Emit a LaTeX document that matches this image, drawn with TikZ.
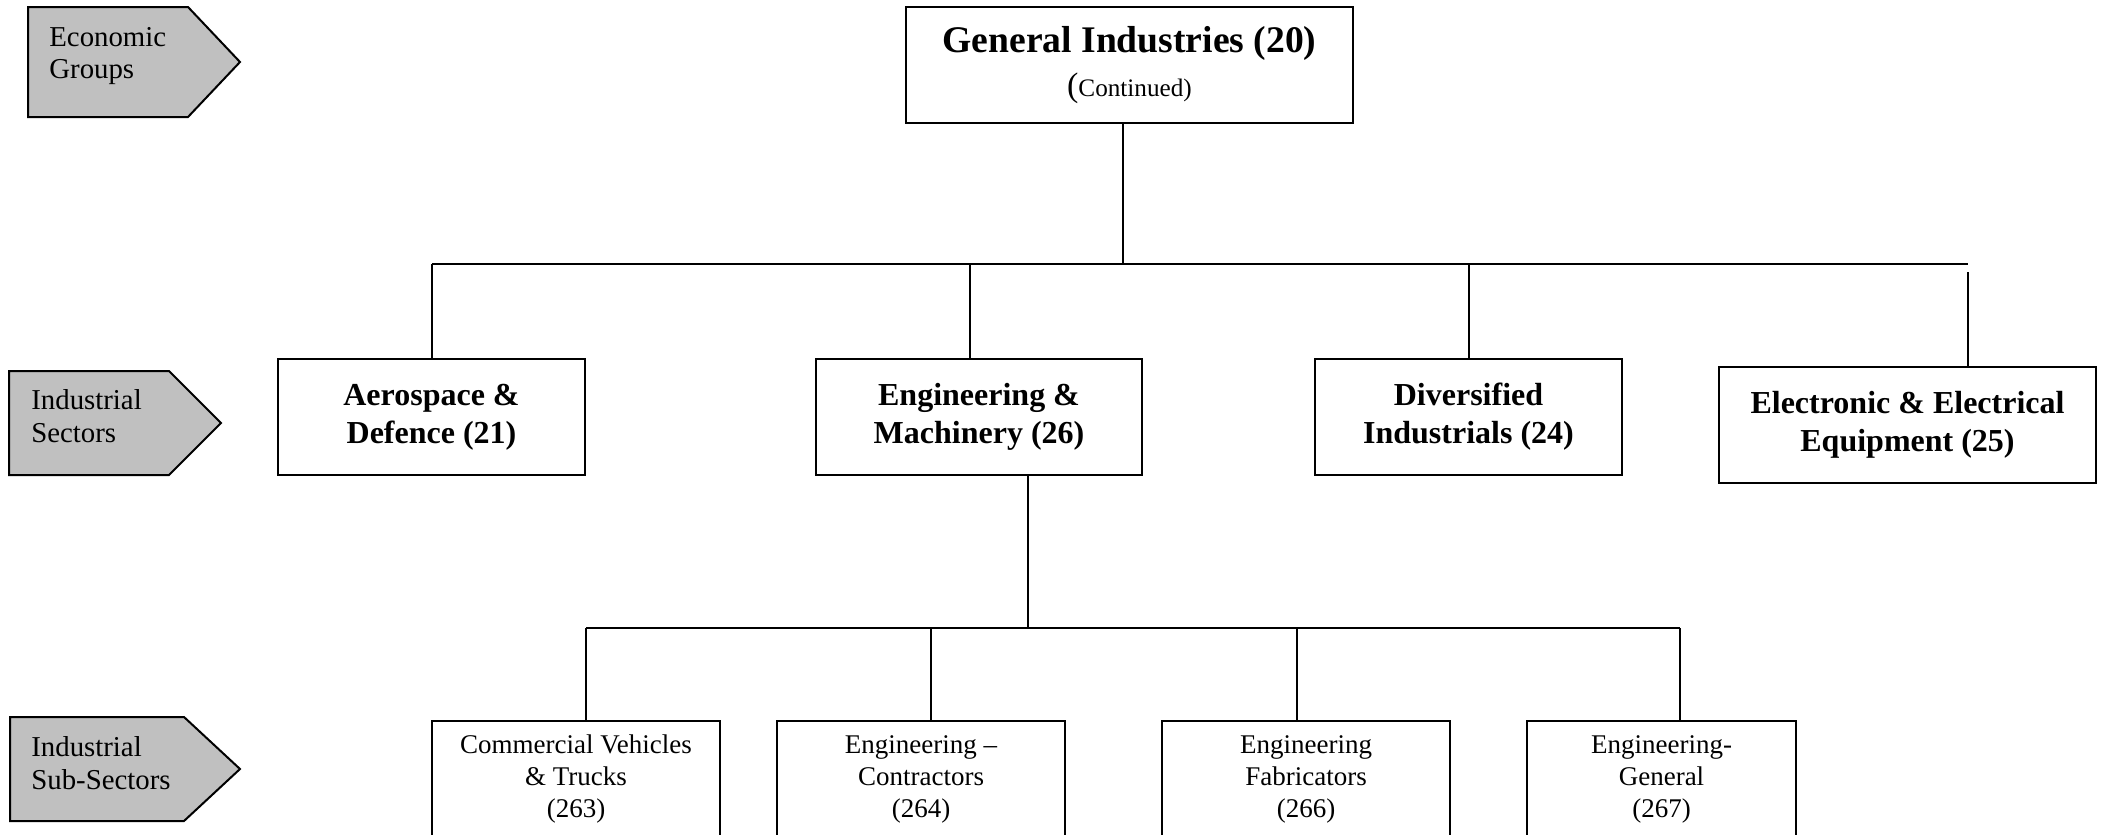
\documentclass[tikz,border=0pt]{standalone}
\usepackage{fontspec}
\setmainfont{Liberation Serif}
\newcommand{\mvtext}[2]{\raisebox{#1}{\begin{tabular}{@{}c@{}}#2\end{tabular}}}
\begin{document}
\begin{tikzpicture}[x=0.5pt,y=-0.5pt,
  box/.style={draw=black,line width=1pt,fill=white,align=center,inner sep=0pt},
  gbox/.style={box,minimum width=223.5pt,minimum height=58pt},
  sbox/.style={box,minimum height=58pt,font=\fontsize{16}{19}\selectfont\bfseries},
  subbox/.style={box,minimum height=58pt,font=\fontsize{13.5}{16}\selectfont},
  tag/.style={draw=black,line width=1pt,fill=tagfill},
  tagtext/.style={anchor=west,align=left,inner sep=0pt,font=\fontsize{14.4}{16.2}\selectfont},
  link/.style={draw=black,line width=1pt}]
\definecolor{tagfill}{HTML}{C0C0C0}
\useasboundingbox (0,0) rectangle (2109,835);
% row tags
\draw[tag] (28,7) -- (188,7) -- (240,62) -- (188,117) -- (28,117) -- cycle;
\node[tagtext] (tEG) at (49,56) {Economic\\Groups};
\draw[tag] (9,371) -- (169,371) -- (221,423) -- (169,475) -- (9,475) -- cycle;
\node[tagtext] (tIS) at (31,416) {Industrial\\Sectors};
\draw[tag] (10,717) -- (184,717) -- (240,769) -- (184,821) -- (10,821) -- cycle;
\node[tagtext] (tISS) at (31,763) {Industrial\\Sub-Sectors};
% top
\node[gbox] (gi) at (1129.5,65) {{\fontsize{18.8}{23.5}\selectfont\bfseries General Industries (20)}\\[5pt]
  {\fontsize{17}{20}\selectfont(}{\fontsize{12.6}{20}\selectfont Continued)}};
% sectors
\node[sbox,minimum width=153.5pt] (aero) at (431.5,417) {\mvtext{4pt}{Aerospace \&\\Defence (21)}};
\node[sbox,minimum width=163pt] (eng) at (979,417) {\mvtext{4pt}{Engineering \&\\Machinery (26)}};
\node[sbox,minimum width=153.5pt] (div) at (1468.5,417) {\mvtext{4pt}{Diversified\\Industrials (24)}};
\node[sbox,minimum width=188.5pt] (elec) at (1907.5,425) {\mvtext{4pt}{Electronic \& Electrical\\Equipment (25)}};
% sub-sectors
\node[subbox,minimum width=144pt] (s263) at (576,779) {\mvtext{-4pt}{Commercial Vehicles\\\& Trucks\\(263)}};
\node[subbox,minimum width=144pt] (s264) at (921,779) {\mvtext{-4pt}{Engineering –\\Contractors\\(264)}};
\node[subbox,minimum width=144pt] (s266) at (1306,779) {\mvtext{-4pt}{Engineering\\Fabricators\\(266)}};
\node[subbox,minimum width=134.5pt] (s267) at (1661.5,779) {\mvtext{-4pt}{Engineering-\\General\\(267)}};
% connectors level 1
\coordinate (b0) at (1123,264);
\coordinate (b1) at (432,264);
\coordinate (b2) at (970,264);
\coordinate (b3) at (1469,264);
\coordinate (b4) at (1968,264);
\coordinate (e4) at (1968,272);
\draw[link] (gi.south -| b0) -- (b0);
\draw[link] (b1) -- (b4);
\draw[link] (b1) -- (aero.north -| b1);
\draw[link] (b2) -- (eng.north -| b2);
\draw[link] (b3) -- (div.north -| b3);
\draw[link] (e4) -- (elec.north -| e4);
% connectors level 2
\coordinate (c0) at (1028,628);
\coordinate (c1) at (586,628);
\coordinate (c2) at (931,628);
\coordinate (c3) at (1297,628);
\coordinate (c4) at (1680,628);
\draw[link] (eng.south -| c0) -- (c0);
\draw[link] (c1) -- (c4);
\draw[link] (c1) -- (s263.north -| c1);
\draw[link] (c2) -- (s264.north -| c2);
\draw[link] (c3) -- (s266.north -| c3);
\draw[link] (c4) -- (s267.north -| c4);
\end{tikzpicture}
\end{document}
